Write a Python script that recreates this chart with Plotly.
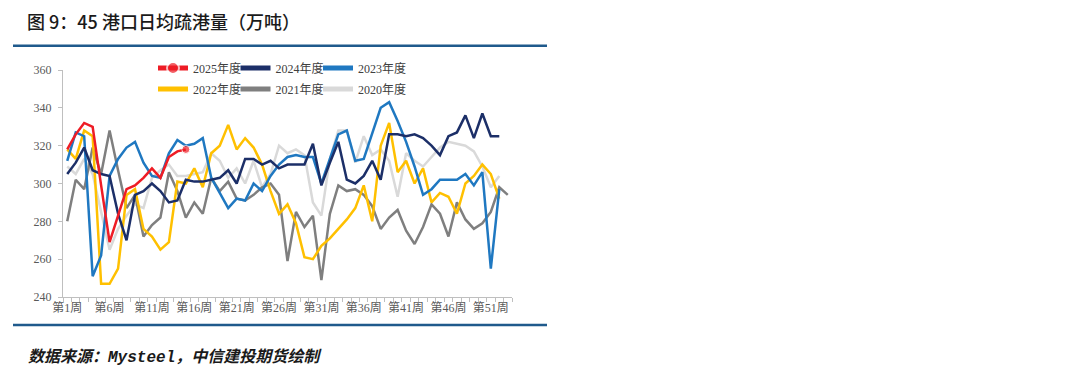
import plotly.graph_objects as go

weeks = list(range(1, 54))
tick_weeks = [1, 6, 11, 16, 21, 26, 31, 36, 41, 46, 51]
tick_labels = ["第1周", "第6周", "第11周", "第16周", "第21周", "第26周",
               "第31周", "第36周", "第41周", "第46周", "第51周"]
y_ticks = [240, 260, 280, 300, 320, 340, 360]

y2025 = [318, 326, 332, 330, 299, 269, 283, 297, 299, 303, 308, 303, 314, 317, 318]
y2024 = [305, 311, 319, 307, 305, 304, 284, 270, 294, 296, 300, 296, 290, 291, 302,
         301, 301, 302, 303, 307, 300, 313, 313, 310, 312, 308, 310, 310, 310, 321,
         299, 311, 322, 302, 300, 304, 312, 302, 326, 326, 325, 326, 324, 320, 315,
         325, 327, 336, 324, 337, 325, 325]
y2023 = [312, 327, 325, 251, 262, 304, 313, 319, 322, 311, 304, 303, 316, 323, 320,
         321, 324, 303, 295, 287, 292, 291, 300, 296, 304, 310, 314, 315, 314, 314,
         300, 313, 326, 328, 312, 313, 326, 340, 343, 333, 322, 309, 294, 297, 302,
         302, 302, 305, 299, 306, 255, 297]
y2022 = [318, 313, 328, 325, 247, 247, 255, 294, 297, 276, 272, 265, 269, 301, 300,
         308, 298, 316, 320, 331, 318, 324, 319, 310, 296, 284, 289, 279, 261, 260,
         267, 271, 276, 281, 287, 299, 280, 320, 332, 306, 312, 300, 308, 290, 295,
         293, 284, 300, 304, 310, 305, 292]
y2021 = [280, 302, 297, 319, 305, 328, 307, 287, 294, 272, 278, 282, 306, 296, 282,
         290, 284, 303, 296, 301, 292, 291, 294, 298, 300, 294, 259, 285, 277, 283,
         249, 284, 299, 296, 297, 294, 288, 276, 282, 286, 275, 268, 277, 289, 284,
         272, 290, 281, 276, 279, 285, 298, 294]
y2020 = [309, 305, 313, 305, 285, 265, 276, 283, 289, 287, 303, 307, 310, 304, 304,
         305, 306, 316, 312, 303, 308, 300, 312, 298, 305, 320, 316, 318, 315, 290,
         283, 313, 328, 328, 311, 325, 315, 318, 312, 293, 316, 312, 309, 314, 319,
         322, 321, 320, 317, 309, 298, 304]

# (name, values, colour, legend id)
series = [
    ("2020年度", y2020, "#d9d9d9", "legend6"),
    ("2021年度", y2021, "#7f7f7f", "legend5"),
    ("2022年度", y2022, "#ffc000", "legend4"),
    ("2023年度", y2023, "#1f78c1", "legend3"),
    ("2024年度", y2024, "#1c2f68", "legend2"),
]

LW = 2.5
fig = go.Figure()
for name, ys, color, lg in series:
    fig.add_trace(go.Scatter(
        x=weeks[:len(ys)], y=ys, name=name, mode="lines",
        line=dict(color=color, width=LW), legend=lg,
    ))

sizes = [0] * (len(y2025) - 1) + [8]
fig.add_trace(go.Scatter(
    x=weeks[:len(y2025)], y=y2025, name="2025年度", mode="lines+markers",
    line=dict(color="#ee1c25", width=LW),
    marker=dict(color="#ee1c25", size=sizes),
    legend="legend",
))

# page body has an 8px margin: figure coords = reference coords - 8
OFF = 8
W, H = 1080 - OFF, 377 - OFF
L, R, T, B = 63 - OFF, 512 - OFF, 70 - OFF, 297 - OFF
PW, PH = R - L, B - T


def px(xref_px):
    return (xref_px - OFF - L) / PW


def py(yref_px):
    return (B - (yref_px - OFF)) / PH


serif = "Liberation Serif, Times New Roman, Noto Sans CJK SC"
legend_font = dict(family=serif, size=12, color="#404040")

legend_pos = {
    "legend": (160, 68), "legend2": (242.5, 68), "legend3": (325, 68),
    "legend4": (160, 89), "legend5": (242.5, 89), "legend6": (325, 89),
}
legends = {}
for key, (lx, ly) in legend_pos.items():
    legends[key] = dict(orientation="h", x=px(lx - 7), y=py(ly), xanchor="left", yanchor="middle",
                        font=legend_font, bgcolor="rgba(0,0,0,0)", itemwidth=30,
                        itemsizing="constant")

fig.update_layout(
    width=W, height=H,
    margin=dict(l=L, r=W - R, t=T, b=H - B, autoexpand=False),
    paper_bgcolor="white", plot_bgcolor="white",
    xaxis=dict(range=[0.5, 53.5], tickmode="array", tickvals=tick_weeks, ticktext=tick_labels,
               ticks="", showgrid=False, zeroline=False, showline=True, linecolor="#bfbfbf",
               linewidth=1, automargin=False,
               tickfont=dict(family=serif, size=12, color="#595959"),
               minor=dict(tickmode="linear", tick0=0.5, dtick=1, ticks="outside", ticklen=4,
                          tickcolor="#bfbfbf", showgrid=False)),
    yaxis=dict(range=[240, 360], tickmode="array", tickvals=y_ticks, ticks="outside", ticklen=4,
               tickcolor="#bfbfbf", showgrid=False, zeroline=False, showline=True,
               linecolor="#bfbfbf", linewidth=1, automargin=False, ticklabelstandoff=4,
               tickfont=dict(family="Liberation Serif, Times New Roman", size=12, color="#595959")),
    showlegend=True,
    **legends,
)

fig.add_annotation(text="图 9：45 港口日均疏港量（万吨）", xref="paper", yref="paper",
                   x=px(25), y=py(21), xanchor="left", yanchor="middle", showarrow=False,
                   font=dict(family="Noto Sans CJK SC", size=18, color="#1a1a1a", weight=500))
fig.add_annotation(text="数据来源：<span style='font-family:Liberation Mono, DejaVu Sans Mono'>Mysteel</span>，中信建投期货绘制",
                   xref="paper", yref="paper",
                   x=px(26), y=py(355), xanchor="left", yanchor="middle", showarrow=False,
                   font=dict(family="Noto Sans CJK SC", size=16, color="#1a1a1a", weight="bold",
                             style="italic"))
for yl in (45.7, 325):
    fig.add_shape(type="line", xref="paper", yref="paper", x0=px(13), x1=px(547),
                  y0=py(yl), y1=py(yl), line=dict(color="#1f5a8c", width=2.5))

fig.write_html("out.html")
